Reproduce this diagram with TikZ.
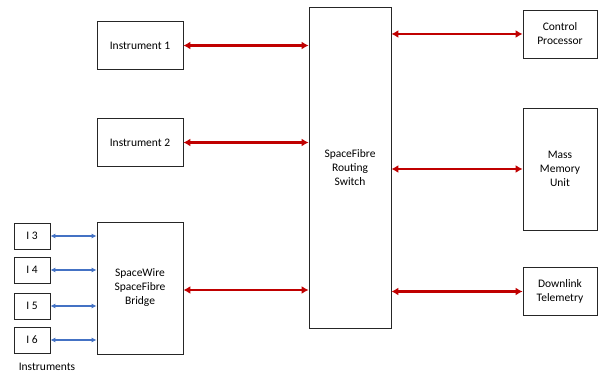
\documentclass[tikz,border=0pt]{standalone}
\usepackage{fontspec}
\setmainfont{Carlito}
\usetikzlibrary{arrows.meta,positioning}
\definecolor{linkred}{RGB}{192,0,0}
\definecolor{linkblue}{RGB}{68,114,196}
\tikzset{
unit/.style={
  draw=black!85,
  line width=0.8pt,
  align=center,
  inner sep=1pt,
  font=\fontsize{11.5}{14}\selectfont
  },
redlink/.style={
  linkred,
  line width=2.6pt,
  {Latex[length=7pt,width=8pt]}-{Latex[length=7pt,width=8pt]}
  },
bluelink/.style={
  linkblue,
  line width=1.1pt,
  {Latex[length=5pt,width=5pt]}-{Latex[length=5pt,width=5pt]}
  }
}

\begin{document}
\begin{tikzpicture}[x=1pt, y=-1pt]
\useasboundingbox (0,0) rectangle (600,374);

\node[unit, minimum width=86pt, minimum height=48pt] (inst1) at (140,45.5) {Instrument 1};
\node[unit, minimum width=86pt, minimum height=48pt] (inst2) at (140,142.5) {Instrument 2};
\node[unit, minimum width=86pt, minimum height=132pt] (brdg) at (140,288) {SpaceWire\\SpaceFibre\\Bridge};

\node[unit, minimum width=82pt, minimum height=321pt] (sw) at (350,167.5) {SpaceFibre\\Routing\\Switch};

\node[unit, minimum width=74pt, minimum height=48pt] (ctrl) at (560,34) {Control\\Processor};
\node[unit, minimum width=74pt, minimum height=122pt] (mmu) at (560,169) {Mass\\Memory\\Unit};
\node[unit, minimum width=74pt, minimum height=48pt] (dl) at (560,291.5) {Downlink\\Telemetry};

% instruments on the bridge
\node[unit, minimum width=36pt, minimum height=26pt] (i3) at (32,236) {I 3};
\node[unit, minimum width=36pt, minimum height=26pt] (i4) at (32,270) {I 4};
\node[unit, minimum width=36pt, minimum height=26pt] (i5) at (32,306) {I 5};
\node[unit, minimum width=36pt, minimum height=26pt] (i6) at (32,340) {I 6};
\node[font=\fontsize{11.5}{14}\selectfont] (instr) at (47,367) {Instruments};

\draw[redlink] (inst1.east) -- (inst1.east -| sw.west);
\draw[redlink] (inst2.east) -- (inst2.east -| sw.west);
\draw[redlink] ([yshift=-2pt]brdg.east) -- ([yshift=-2pt]brdg.east -| sw.west);
\draw[redlink] (sw.east |- ctrl.west) -- (ctrl.west);
\draw[redlink] (sw.east |- mmu.west) -- (mmu.west);
\draw[redlink] (sw.east |- dl.west) -- (dl.west);

\draw[bluelink] (i3.east) -- (i3.east -| brdg.west);
\draw[bluelink] (i4.east) -- (i4.east -| brdg.west);
\draw[bluelink] (i5.east) -- (i5.east -| brdg.west);
\draw[bluelink] (i6.east) -- (i6.east -| brdg.west);
\end{tikzpicture}
\end{document}
